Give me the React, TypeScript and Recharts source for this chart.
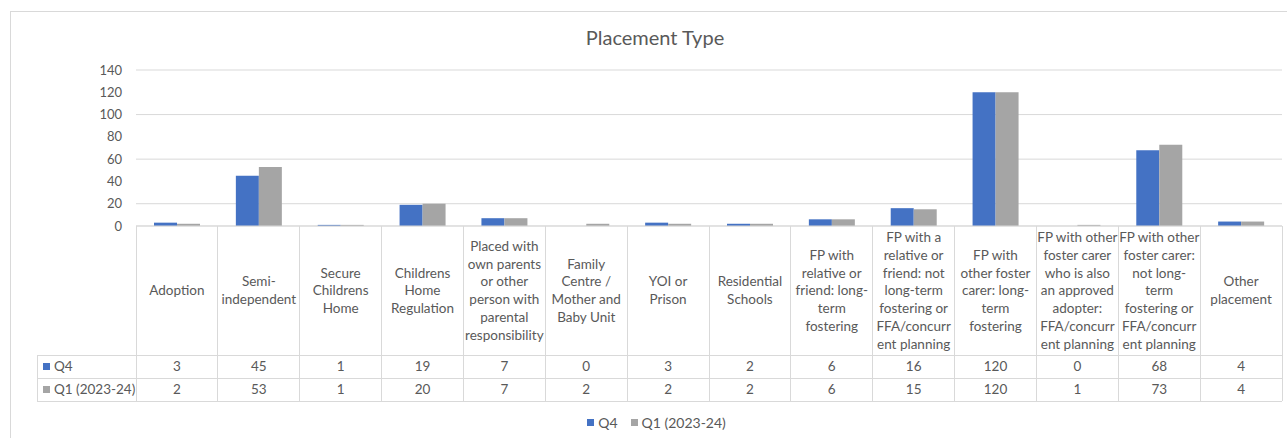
import { Bar, BarChart, CartesianGrid, Legend, XAxis, YAxis } from "recharts";

// header lines as they wrap in the data table under the chart
const CATEGORIES = [
  ["Adoption"],
  ["Semi-", "independent"],
  ["Secure", "Childrens", "Home"],
  ["Childrens", "Home", "Regulation"],
  ["Placed with", "own parents", "or other", "person with", "parental", "responsibility"],
  ["Family", "Centre /", "Mother and", "Baby Unit"],
  ["YOI or", "Prison"],
  ["Residential", "Schools"],
  ["FP with", "relative or", "friend: long-", "term", "fostering"],
  ["FP with a", "relative or", "friend: not", "long-term", "fostering or", "FFA/concurr", "ent planning"],
  ["FP with", "other foster", "carer: long-", "term", "fostering"],
  ["FP with other", "foster carer", "who is also", "an approved", "adopter:", "FFA/concurr", "ent planning"],
  ["FP with other", "foster carer:", "not long-", "term", "fostering or", "FFA/concurr", "ent planning"],
  ["Other", "placement"],
];
const Q4 = [3, 45, 1, 19, 7, 0, 3, 2, 6, 16, 120, 0, 68, 4];
const Q1 = [2, 53, 1, 20, 7, 2, 2, 2, 6, 15, 120, 1, 73, 4];
const Y_TICKS = [0, 20, 40, 60, 80, 100, 120, 140];

const SERIES = [
  { key: "q4", name: "Q4", color: "#4472C4" },
  { key: "q1", name: "Q1 (2023-24)", color: "#A5A5A5" },
];

const data = CATEGORIES.map((lines, i) => ({ name: lines.join(" "), q4: Q4[i], q1: Q1[i] }));

const W = 1272;
const H = 431;
const MARGIN = { top: 58, right: 1, bottom: 0, left: 0 };
const Y_W = 125;
const COL_W = (W - MARGIN.left - MARGIN.right - Y_W) / CATEGORIES.length;
const HEAD_H = 129;
const ROW_H = 23;
const LINE_H = 17.8;
const GRID = "#D9D9D9";
const TEXT = "#595959";
const FONT = "Lato, 'Open Sans', sans-serif";

function TableTick(props: any) {
  const { x, y, payload } = props;
  const i: number = payload.index ?? props.index;
  const lines = CATEGORIES[i];
  const left = x - COL_W / 2;
  const right = x + COL_W / 2;
  const r1 = y + HEAD_H;
  const r2 = r1 + ROW_H;
  const bottom = r2 + ROW_H;
  const first = y + HEAD_H / 2 - ((lines.length - 1) * LINE_H) / 2;
  const labelLeft = 26;
  return (
    <g fontFamily={FONT} fill={TEXT}>
      <line x1={left} x2={left} y1={y} y2={bottom} stroke={GRID} shapeRendering="crispEdges" />
      {i === CATEGORIES.length - 1 && (
        <line x1={right} x2={right} y1={y} y2={bottom} stroke={GRID} shapeRendering="crispEdges" />
      )}
      {[r1, r2, bottom].map((ly) => (
        <line key={ly} x1={left} x2={right} y1={ly} y2={ly} stroke={GRID} shapeRendering="crispEdges" />
      ))}
      {lines.map((l, k) => (
        <text key={k} x={x} y={first + k * LINE_H} dy="0.36em" textAnchor="middle" fontSize={13.5}>
          {l}
        </text>
      ))}
      {SERIES.map((s, r) => (
        <text key={s.key} x={x} y={r1 + ROW_H * r + ROW_H / 2} dy="0.36em" textAnchor="middle" fontSize={13.5}>
          {(data[i] as any)[s.key]}
        </text>
      ))}
      {i === 0 && (
        <g>
          <line x1={labelLeft} x2={left} y1={r1} y2={r1} stroke={GRID} shapeRendering="crispEdges" />
          <line x1={labelLeft} x2={left} y1={r2} y2={r2} stroke={GRID} shapeRendering="crispEdges" />
          <line x1={labelLeft} x2={left} y1={bottom} y2={bottom} stroke={GRID} shapeRendering="crispEdges" />
          <line x1={labelLeft} x2={labelLeft} y1={r1} y2={bottom} stroke={GRID} shapeRendering="crispEdges" />
          {SERIES.map((s, r) => (
            <g key={s.key}>
              <rect x={labelLeft + 6} y={r1 + ROW_H * r + ROW_H / 2 - 3.5} width={7} height={7} fill={s.color} />
              <text x={labelLeft + 17} y={r1 + ROW_H * r + ROW_H / 2} dy="0.36em" fontSize={13.5}>
                {s.name}
              </text>
            </g>
          ))}
        </g>
      )}
    </g>
  );
}

function LegendBox() {
  return (
    <div
      style={{
        height: 42,
        display: "flex",
        justifyContent: "center",
        alignItems: "center",
        gap: 13,
        paddingLeft: 20,
        fontFamily: FONT,
        fontSize: 14,
        color: TEXT,
      }}
    >
      {SERIES.map((s) => (
        <span key={s.key} style={{ display: "flex", alignItems: "center", gap: 4 }}>
          <span style={{ width: 7, height: 7, background: s.color, display: "inline-block" }} />
          {s.name}
        </span>
      ))}
    </div>
  );
}

export default function App() {
  return (
    <>
      <style>{"body{margin:0;overflow:hidden;background:#fff}"}</style>
      <div
        style={{
          position: "absolute",
          left: 10,
          top: 11,
          width: 1290,
          height: 440,
          borderLeft: `1px solid ${GRID}`,
          borderTop: `1px solid ${GRID}`,
        }}
      >
        <div
          style={{
            position: "absolute",
            left: 0,
            top: 13,
            width: 1288,
            textAlign: "center",
            fontFamily: FONT,
            fontSize: 20,
            lineHeight: "24px",
            color: TEXT,
          }}
        >
          Placement Type
        </div>
        <BarChart width={W} height={H} data={data} margin={MARGIN} barGap={0} barSize={23}>
          <CartesianGrid vertical={false} stroke={GRID} />
          <XAxis
            dataKey="name"
            interval={0}
            height={HEAD_H + ROW_H * 2}
            axisLine={{ stroke: GRID }}
            tickLine={false}
            tickSize={0}
            tickMargin={0}
            tick={<TableTick />}
          />
          <YAxis
            width={Y_W}
            domain={[0, 140]}
            ticks={Y_TICKS}
            axisLine={false}
            tickLine={false}
            tickSize={0}
            tickMargin={14}
            tick={{ fill: TEXT, fontSize: 13, fontFamily: FONT }}
          />
          <Legend verticalAlign="bottom" content={<LegendBox />} />
          {SERIES.map((s) => (
            <Bar key={s.key} dataKey={s.key} name={s.name} fill={s.color} isAnimationActive={false} />
          ))}
        </BarChart>
      </div>
    </>
  );
}
